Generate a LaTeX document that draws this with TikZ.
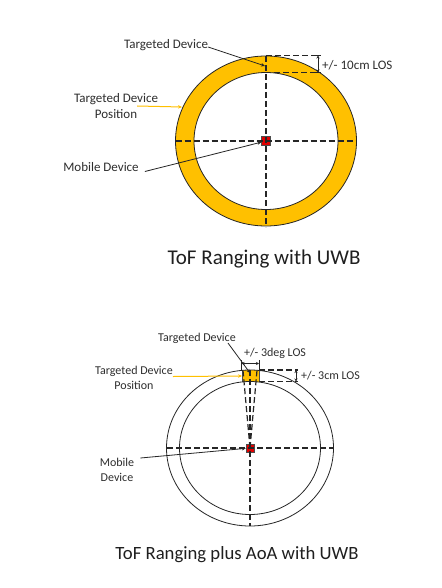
\documentclass[tikz,border=0pt]{standalone}
\usepackage{fontspec}
\setmainfont{Carlito}
\usetikzlibrary{arrows.meta}
\definecolor{ringgold}{HTML}{FFC000}
\definecolor{devred}{HTML}{E00000}

\begin{document}
\begin{tikzpicture}[x=1pt, y=-1pt,
    lbl/.style={font=\fontsize{13}{16}\selectfont, text=black!82, inner sep=0pt, align=center},
    lbls/.style={font=\fontsize{12}{15}\selectfont, text=black!82, inner sep=0pt, align=center},
    ttl/.style={text=black!88, inner sep=0pt},
    dsh/.style={dash pattern=on 6pt off 3pt, line width=1.2pt, black!85},
    rim/.style={line width=0.8pt, black!85},
    dev/.style={draw=black!70, fill=devred, line width=0.5pt, minimum size=9pt, inner sep=0pt},
    arr/.style={-{Stealth[length=4pt,width=3.5pt]}, line width=0.8pt, black!85},
    yarr/.style={arr, ringgold, line width=1pt},
    dim/.style={{Stealth[length=3pt,width=3pt]}-{Stealth[length=3pt,width=3pt]}, line width=0.8pt, black!85}]
  \fill[white] (0,0) rectangle (441,588);
  \useasboundingbox (0,0) rectangle (441,588);
  % === Top: ToF ranging ring ===
  \coordinate (c1) at (266,141);
  \fill[ringgold, even odd rule] (c1) ellipse [x radius=90.5, y radius=85]
                                 (c1) ellipse [x radius=72, y radius=68.5];
  \draw[rim] (c1) ellipse [x radius=90.5, y radius=85];
  \draw[rim] (c1) ellipse [x radius=72, y radius=68.5];
  \node[dev] (mob1) at (c1) {};
  \draw[dsh] (175.5,141) -- (356.5,141);
  \draw[dsh] (266,56) -- (266,227);
  % === Top: tolerance band ===
  \draw[dsh] (266,55.5) -- (321,55.5);
  \draw[dsh] (274,72.5) -- (321,72.5);
  \coordinate (b1a) at (318,55.5);
  \coordinate (b1b) at (318,72.5);
  \draw[dim] (b1a) -- (b1b);
  \draw[line width=0.8pt, black!85] (315,55.5) -- (321,55.5) (315,72.5) -- (321,72.5);
  \node[lbl, anchor=west] (los1) at (322,65) {+/- 10cm LOS};
  % === Top: labels ===
  \node[lbl] (td1) at (166,45) {Targeted Device};
  \coordinate (td1pt) at (265,66);
  \draw[arr] ([yshift=-2pt]td1.east) -- (td1pt);
  \node[lbl] (tdp1) at (116,106) {Targeted Device\\Position};
  \coordinate (tdp1pt) at (182,107);
  \draw[yarr] ([xshift=-21pt]tdp1.east) -- (tdp1pt);
  \node[lbl] (md1) at (101,167.5) {Mobile Device};
  \draw[arr] ([shift={(6pt,-4pt)}]md1.east) -- (mob1);
  \node[ttl, font=\fontsize{21}{25}\selectfont] (ttl1) at (264,259) {ToF Ranging with UWB};
  % === Bottom: ToF + AoA ring ===
  \coordinate (c2) at (250,448);
  \begin{scope}
    \clip (242,360) rectangle (259,390);
    \fill[ringgold, even odd rule] (c2) ellipse [x radius=83.5, y radius=78]
                                   (c2) ellipse [x radius=70.5, y radius=66.5];
  \end{scope}
  \draw[line width=0.6pt, black!70] (242,370.4) -- (242,381.9) (259,370.5) -- (259,382);
  \draw[rim] (c2) ellipse [x radius=83.5, y radius=78];
  \draw[rim] (c2) ellipse [x radius=70.5, y radius=66.5];
  \node[dev, minimum size=8pt] (mob2) at (c2) {};
  \draw[dsh] (167,448) -- (333.5,448);
  \draw[dsh] (250,370) -- (250,526);
  \draw[dsh] (c2) -- (243,370.5);
  \draw[dsh] (c2) -- (257,370.5);
  % === Bottom: tolerance marks ===
  \draw[dsh] (259,370) -- (298,370);
  \draw[dsh] (259,381.5) -- (298,381.5);
  \coordinate (b2a) at (296,370);
  \coordinate (b2b) at (296,381.5);
  \draw[dim] (b2a) -- (b2b);
  \node[lbls, anchor=west] (los2) at (301,375.5) {+/- 3cm LOS};
  \draw[line width=0.8pt, black!85] (241.5,360) -- (241.5,370) (259,360) -- (259,370);
  \coordinate (b3a) at (241.5,363.5);
  \coordinate (b3b) at (259,363.5);
  \draw[dim] (b3a) -- (b3b);
  \node[lbls] (los3) at (275,353) {+/- 3deg LOS};
  % === Bottom: labels ===
  \node[lbls] (td2) at (197,338) {Targeted Device};
  \coordinate (td2pt) at (250,373);
  \draw[arr] ([shift={(-8pt,-5pt)}]td2.east) -- (td2pt);
  \node[lbls] (tdp2) at (134,377.5) {Targeted Device\\Position};
  \coordinate (tdp2pt) at (242,376);
  \draw[yarr] ([yshift=1pt]tdp2.east) -- (tdp2pt);
  \node[lbls] (md2) at (117,469.5) {Mobile\\Device};
  \draw[arr] ([shift={(6pt,11.5pt)}]md2.east) -- (mob2);
  \node[ttl, font=\fontsize{18.7}{22}\selectfont] (ttl2) at (237,554.5) {ToF Ranging plus AoA with UWB};
\end{tikzpicture}
\end{document}
